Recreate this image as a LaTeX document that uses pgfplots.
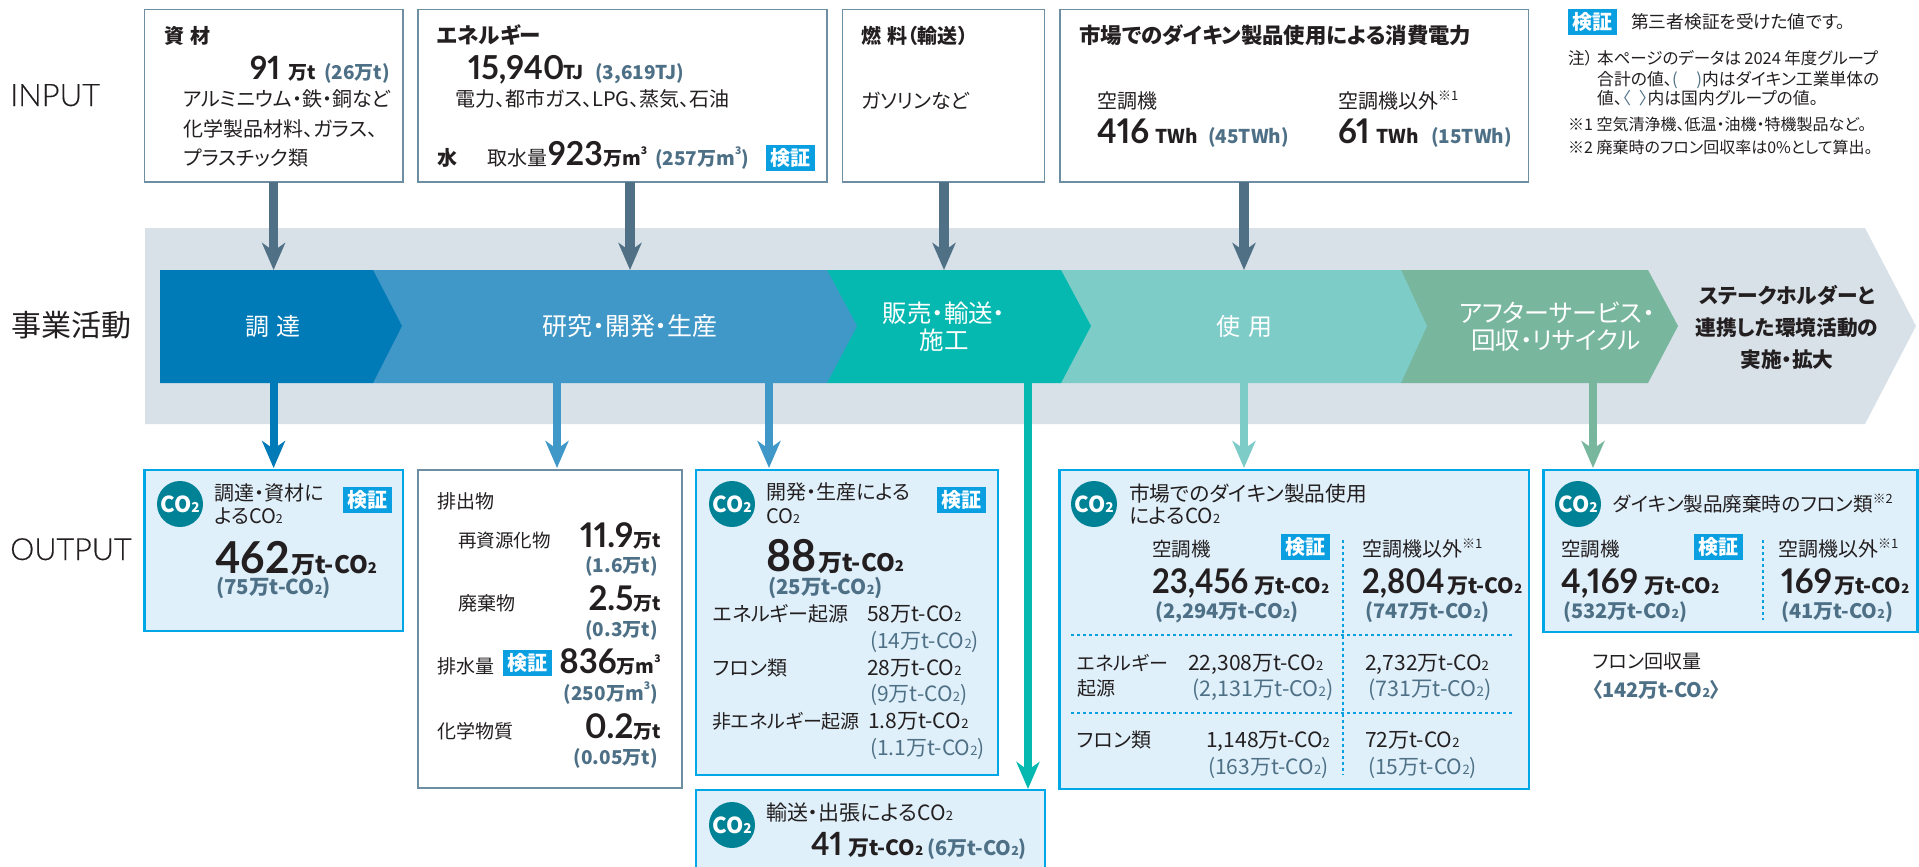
\documentclass[border=0pt]{standalone}
\usepackage{fontspec}
\usepackage{graphicx}
\usepackage{pgfplots}
\pgfplotsset{compat=1.18}
\usetikzlibrary{arrows.meta}
\setmainfont[RawFeature={+palt}]{Noto Sans CJK JP}
\newfontfamily\numf[Numbers=Proportional,FakeStretch=0.97]{Lato}
\newfontfamily\numn[Numbers=Proportional,FakeStretch=0.91]{Lato}
\newfontfamily\labf[FakeBold=0.4]{Lato Light}
\definecolor{ink}{HTML}{231F20}
\definecolor{par}{HTML}{4E7086}
\definecolor{steel}{HTML}{4F7085}
\definecolor{band}{HTML}{D8E0E8}
\definecolor{cA}{HTML}{007BB7}
\definecolor{cB}{HTML}{4098C8}
\definecolor{cC}{HTML}{05B9B0}
\definecolor{cD}{HTML}{7DCCC8}
\definecolor{cE}{HTML}{78B79D}
\definecolor{bluebd}{HTML}{00A7E6}
\definecolor{bluefill}{HTML}{E0F0FA}
\definecolor{badge}{HTML}{0A9FE0}
\definecolor{circ}{HTML}{008296}
\definecolor{inbd}{HTML}{6E8FA3}
\newcommand\tx[6][base west]{\node[anchor=#1,inner sep=0pt,text=#5] at (axis cs:#2,#3) {\fontsize{#4}{#4}\selectfont #6};}
\newcommand\COt{CO\raisebox{-.03em}{\scalebox{.62}{2}}}
\newcommand\cube{\raisebox{.55em}{\scalebox{.55}{3}}}
\newcommand\nm[1]{{\numf\bfseries #1}}
\newcommand\nn[1]{{\numn\bfseries #1}}
\newcommand\badge[2]{\addplot[fill=badge,draw=none] coordinates {(#1,#2) (#1+49,#2) (#1+49,#2+26) (#1,#2+26)} --cycle;
  \tx[center]{#1+24.5}{#2+13}{20}{white}{\bfseries 検証}}
\newcommand\cotwo[2]{\fill[circ] (axis cs:#1,#2) circle[radius=23pt];
  \tx[center]{#1}{#2}{22}{white}{\bfseries \COt}}
\newcommand\arr[5]{\addplot[#1,line width=#2pt,-{Stealth[length=27pt,width=23pt,inset=8pt]}] coordinates {(#3,#4) (#3,#5)};}
\begin{document}
\begin{tikzpicture}
\begin{axis}[
  scale only axis,
  width=1919pt, height=867pt,
  xmin=0, xmax=1919, ymin=0, ymax=867,
  y dir=reverse,
  hide axis,
]
% band and chevrons
\addplot[fill=band,draw=none] coordinates {(145,228) (1865,228) (1916,326) (1865,424) (145,424)} --cycle;
\addplot[fill=cE,draw=none] coordinates {(1401,270) (1648,270) (1678,326) (1648,383) (1401,383)} --cycle;
\addplot[fill=cD,draw=none] coordinates {(1061,270) (1401,270) (1427,326) (1401,383) (1061,383)} --cycle;
\addplot[fill=cC,draw=none] coordinates {(827,270) (1061,270) (1091,326) (1061,383) (827,383)} --cycle;
\addplot[fill=cB,draw=none] coordinates {(373,270) (827,270) (857,326) (827,383) (373,383)} --cycle;
\addplot[fill=cA,draw=none] coordinates {(160,270) (373,270) (402,326) (373,383) (160,383)} --cycle;
% input boxes
\addplot[fill=white,draw=inbd,line width=1.5pt] coordinates {(144.5,9.5) (403,9.5) (403,182) (144.5,182)} --cycle;
\addplot[fill=white,draw=inbd,line width=1.5pt] coordinates {(418,9.5) (827,9.5) (827,182) (418,182)} --cycle;
\addplot[fill=white,draw=inbd,line width=1.5pt] coordinates {(842.5,9.5) (1044.5,9.5) (1044.5,182) (842.5,182)} --cycle;
\addplot[fill=white,draw=inbd,line width=1.5pt] coordinates {(1060,9.5) (1528.5,9.5) (1528.5,182) (1060,182)} --cycle;
% output boxes
\addplot[fill=bluefill,draw=bluebd,line width=2.2pt] coordinates {(144.5,470) (403,470) (403,631) (144.5,631)} --cycle;
\addplot[fill=white,draw=inbd,line width=1.5pt] coordinates {(418,470) (682,470) (682,788) (418,788)} --cycle;
\addplot[fill=bluefill,draw=bluebd,line width=2.2pt] coordinates {(696,470) (998,470) (998,775) (696,775)} --cycle;
\addplot[fill=bluefill,draw=bluebd,line width=2.2pt] coordinates {(696,790) (1045,790) (1045,880) (696,880)} --cycle;
\addplot[fill=bluefill,draw=bluebd,line width=2.2pt] coordinates {(1059.5,470) (1529,470) (1529,789) (1059.5,789)} --cycle;
\addplot[fill=bluefill,draw=bluebd,line width=2.2pt] coordinates {(1543.5,470) (1917.5,470) (1917.5,632) (1543.5,632)} --cycle;
% arrows
\arr{steel}{9.5}{273.6}{182}{270}
\arr{steel}{9.5}{630}{182}{270}
\arr{steel}{9.5}{944}{182}{270}
\arr{steel}{9.5}{1244}{182}{270}
\arr{cA}{8}{273.6}{383}{468}
\arr{cB}{8}{557}{383}{468}
\arr{cB}{8}{769}{383}{468}
\arr{cC}{7.5}{1028}{383}{789}
\arr{cD}{8}{1244}{383}{468}
\arr{cE}{8}{1593}{383}{468}
% dotted rules
\addplot[badge,line width=1.8pt,dash pattern=on 2.5pt off 3.5pt] coordinates {(1343,540) (1343,775)};
\addplot[badge,line width=1.8pt,dash pattern=on 2.5pt off 3.5pt] coordinates {(1071,635) (1514,635)};
\addplot[badge,line width=1.8pt,dash pattern=on 2.5pt off 3.5pt] coordinates {(1071,713) (1514,713)};
\addplot[badge,line width=1.8pt,dash pattern=on 2.5pt off 3.5pt] coordinates {(1763,540) (1763,620)};
% side labels
\tx{10}{106}{31}{ink}{\labf INPUT}
\tx{11}{336}{30}{ink}{事業活動}
\tx{10}{560}{30.5}{ink}{\labf OUTPUT}
% chevron labels
\tx[base]{273}{335}{24}{white}{調\,\,達}
\tx[base]{630}{335}{25}{white}{研究・開発・生産}
\tx[base]{944}{322}{24.5}{white}{販売・輸送・}
\tx[base]{944}{349}{24.5}{white}{施工}
\tx[base]{1244}{335}{24}{white}{使\,\,用}
\tx[base]{1557}{322}{25}{white}{アフターサービス・}
\tx[base]{1556}{349}{24.5}{white}{回収・リサイクル}
\tx[base]{1787}{303}{20.7}{ink}{\bfseries ステークホルダーと}
\tx[base]{1787}{335}{20.7}{ink}{\bfseries 連携した環境活動の}
\tx[base]{1787}{367}{20.7}{ink}{\bfseries 実施・拡大}
% input box 1
\tx{164}{44}{20}{ink}{\bfseries 資\,\,材}
\tx{250}{79}{32}{ink}{\nm{91}}
\tx{288}{79}{19}{ink}{\bfseries 万t}
\tx{324}{79}{19}{par}{\bfseries (26万t)}
\tx{183}{106.5}{20}{ink}{アルミニウム・鉄・銅など}
\tx{183}{136}{20}{ink}{化学製品材料、ガラス、}
\tx{183}{165}{20}{ink}{プラスチック類}
% input box 2
\tx{437}{44}{21.5}{ink}{\bfseries エネルギー}
\tx{468}{79}{33}{ink}{\nm{15,940}}
\tx{563}{79}{19}{ink}{\bfseries TJ}
\tx{595}{79}{19}{par}{\bfseries (3,619TJ)}
\tx{455}{106.5}{20}{ink}{電力、都市ガス、LPG、蒸気、石油}
\tx{437}{165}{20}{ink}{\bfseries 水}
\tx{487}{165}{20}{ink}{取水量}
\tx{548}{165}{33}{ink}{\nm{923}}
\tx{603}{165}{19}{ink}{\bfseries 万m\cube}
\tx{655}{165}{19}{par}{\bfseries (257万m\cube)}
\badge{766}{145}
% input box 3
\tx{861}{44}{20}{ink}{\bfseries 燃\,\,料（輸送）}
\tx{861}{108.5}{20}{ink}{ガソリンなど}
% input box 4
\tx{1079}{44}{21.4}{ink}{\bfseries 市場でのダイキン製品使用による消費電力}
\tx{1097}{108.5}{20}{ink}{空調機}
\tx{1338}{108.5}{20}{ink}{空調機以外\raisebox{.4em}{\scalebox{.65}{※1}}}
\tx{1097}{143}{34}{ink}{\nm{416}}
\tx{1155}{143}{19}{ink}{\bfseries TWh}
\tx{1208}{143}{19}{par}{\bfseries (45TWh)}
\tx{1338}{143}{34}{ink}{\nm{61}}
\tx{1376}{143}{19}{ink}{\bfseries TWh}
\tx{1431}{143}{19}{par}{\bfseries (15TWh)}
% legend and notes
\badge{1568}{9}
\tx{1631}{29}{17.7}{ink}{第三者検証を受けた値です。}
\tx{1568}{65}{16.5}{ink}{注）}
\tx{1597}{65}{16.5}{ink}{本ページのデータは\hspace{.2em}2024\hspace{.2em}年度グループ}
\tx{1597}{85}{16.8}{ink}{合計の値、\textcolor{par}{(\hspace{1.1em})}内はダイキン工業単体の}
\tx{1597}{104}{16.8}{ink}{値、\textcolor{par}{〈\hspace{.5em}〉}内は国内グループの値。}
\tx{1568}{130}{16}{ink}{※1 空気清浄機、低温・油機・特機製品など。}
\tx{1568}{153}{16}{ink}{※2 廃棄時のフロン回収率は0\%として算出。}
% output box 1
\cotwo{180}{504}
\tx{214}{500}{20}{ink}{調達・資材に}
\tx{214}{523}{20}{ink}{よる\COt}
\badge{343}{487}
\tx{215}{573}{44}{ink}{\nm{462}}
\tx{291}{573}{24}{ink}{\bfseries 万t-\COt}
\tx{216}{594}{20.5}{par}{\bfseries (75万t-\COt)}
% output box 2
\tx{437}{508}{19}{ink}{排出物}
\tx{458}{547}{18.5}{ink}{再資源化物}
\tx[base east]{661}{547}{19}{ink}{\fontsize{34}{34}\selectfont\nm{11.9}\fontsize{19}{19}\selectfont\bfseries 万t}
\tx[base east]{658}{572}{19}{par}{\bfseries (1.6万t)}
\tx{458}{610}{19}{ink}{廃棄物}
\tx[base east]{661}{610}{19}{ink}{\fontsize{34}{34}\selectfont\nm{2.5}\fontsize{19}{19}\selectfont\bfseries 万t}
\tx[base east]{658}{636}{19}{par}{\bfseries (0.3万t)}
\tx{437}{673}{19}{ink}{排水量}
\badge{503}{650}
\tx[base east]{661}{673}{19}{ink}{\fontsize{34}{34}\selectfont\nm{836}\fontsize{19}{19}\selectfont\bfseries 万m\cube}
\tx[base east]{658}{700}{19}{par}{\bfseries (250万m\cube)}
\tx{437}{738}{19}{ink}{化学物質}
\tx[base east]{661}{738}{19}{ink}{\fontsize{34}{34}\selectfont\nm{0.2}\fontsize{19}{19}\selectfont\bfseries 万t}
\tx[base east]{658}{764}{19}{par}{\bfseries (0.05万t)}
% output box 3
\cotwo{732}{504}
\tx{766}{499}{20}{ink}{開発・生産による}
\tx{766}{523}{20}{ink}{\COt}
\badge{937}{487}
\tx{766}{571}{44}{ink}{\nm{88}}
\tx{818}{571}{24}{ink}{\bfseries 万t-\COt}
\tx{768}{594}{20.5}{par}{\bfseries (25万t-\COt)}
\tx{713}{621}{20}{ink}{エネルギー起源}
\tx{867}{621}{21}{ink}{58万t-\COt}
\tx{870}{648}{21}{par}{(14万t-\COt)}
\tx{713}{675}{20}{ink}{フロン類}
\tx{867}{675}{21}{ink}{28万t-\COt}
\tx{870}{701}{21}{par}{(9万t-\COt)}
\tx{712}{728}{19}{ink}{非エネルギー起源}
\tx{868}{728}{21}{ink}{1.8万t-\COt}
\tx{870}{755}{21}{par}{(1.1万t-\COt)}
% output box 4
\cotwo{732}{825}
\tx{766}{820}{21}{ink}{輸送・出張による\COt}
\tx{811}{855}{32}{ink}{\nm{41}}
\tx{848}{855}{21}{ink}{\bfseries 万t-\COt}
\tx{927}{855}{20}{par}{\bfseries (6万t-\COt)}
% output box 5
\cotwo{1094}{504}
\tx{1129}{501}{20.7}{ink}{市場でのダイキン製品使用}
\tx{1129}{523}{20.7}{ink}{による\COt}
\tx{1152}{556}{19.5}{ink}{空調機}
\badge{1281}{534}
\tx{1362}{556}{20}{ink}{空調機以外\raisebox{.4em}{\scalebox{.65}{※1}}}
\tx{1152}{593}{34}{ink}{\nn{23,456}}
\tx{1254}{593}{21}{ink}{\bfseries 万t-\COt}
\tx{1155}{618}{20}{par}{\bfseries (2,294万t-\COt)}
\tx{1362}{593}{34}{ink}{\nn{2,804}}
\tx{1447}{593}{21}{ink}{\bfseries 万t-\COt}
\tx{1365}{618}{20}{par}{\bfseries (747万t-\COt)}
\tx{1077}{670}{19}{ink}{エネルギー}
\tx{1077}{695}{19}{ink}{起源}
\tx{1188}{670}{21}{ink}{22,308万t-\COt}
\tx{1192}{696}{21.5}{par}{(2,131万t-\COt)}
\tx{1365}{670}{21}{ink}{2,732万t-\COt}
\tx{1368}{696}{21.5}{par}{(731万t-\COt)}
\tx{1077}{747}{20}{ink}{フロン類}
\tx{1206}{747}{21}{ink}{1,148万t-\COt}
\tx{1208}{774}{21}{par}{(163万t-\COt)}
\tx{1365}{747}{21}{ink}{72万t-\COt}
\tx{1368}{774}{21}{par}{(15万t-\COt)}
% output box 6
\cotwo{1578}{504}
\tx{1613}{511}{19.6}{ink}{ダイキン製品廃棄時のフロン類\raisebox{.4em}{\scalebox{.65}{※2}}}
\tx{1561}{556}{19.5}{ink}{空調機}
\badge{1694}{534}
\tx{1778}{556}{20}{ink}{空調機以外\raisebox{.4em}{\scalebox{.65}{※1}}}
\tx{1561}{593}{34}{ink}{\nm{4,169}}
\tx{1644}{593}{21}{ink}{\bfseries 万t-\COt}
\tx{1563}{618}{20}{par}{\bfseries (532万t-\COt)}
\tx{1781}{593}{34}{ink}{\nm{169}}
\tx{1834}{593}{21}{ink}{\bfseries 万t-\COt}
\tx{1781}{618}{20}{par}{\bfseries (41万t-\COt)}
\tx{1593}{668}{19}{ink}{フロン回収量}
\tx{1592}{697}{20}{par}{\bfseries 〈142万t-\COt〉}
\end{axis}
\pgfresetboundingbox
\path (current axis.south west) rectangle (current axis.north east);
\end{tikzpicture}
\end{document}
